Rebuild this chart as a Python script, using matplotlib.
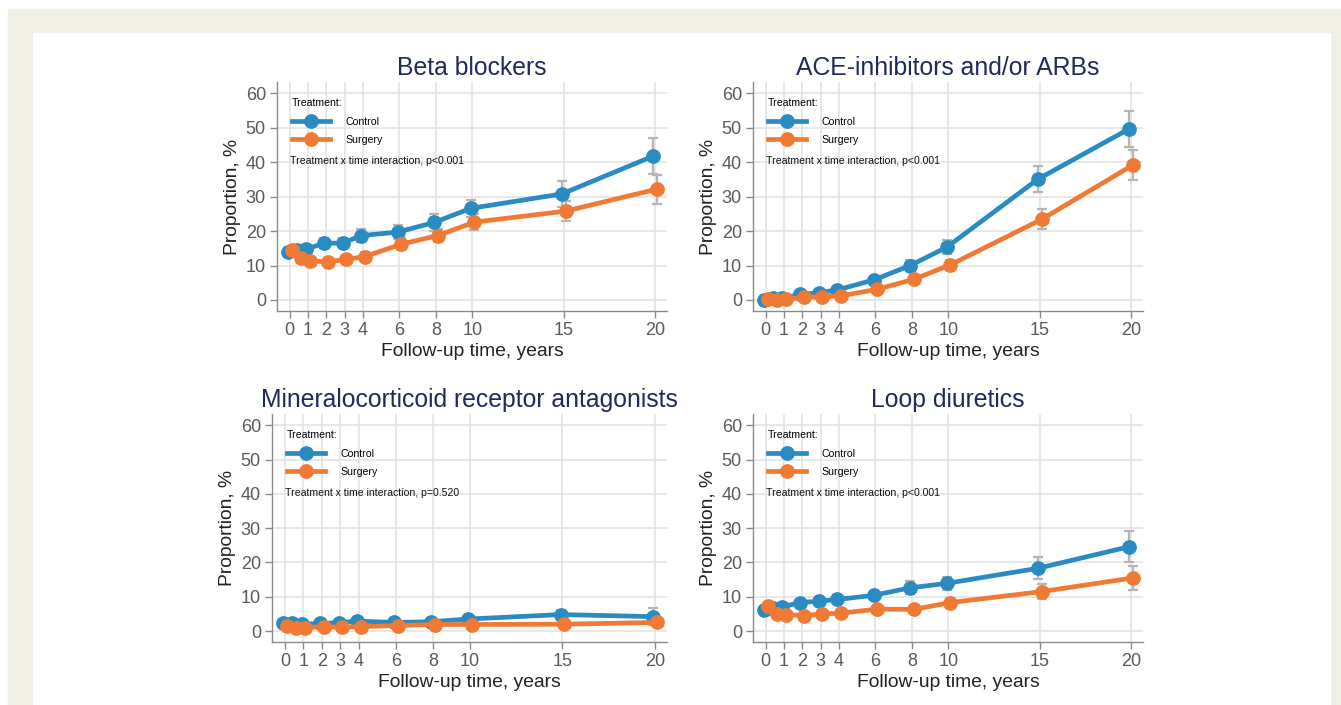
import matplotlib
matplotlib.use("Agg")
import matplotlib.pyplot as plt
from matplotlib.patches import Rectangle
import numpy as np

plt.rcParams['font.family'] = ['Liberation Sans', 'DejaVu Sans']

# follow-up visits (years)
years = np.array([0, 0.5, 1, 2, 3, 4, 6, 8, 10, 15, 20])
xticks = [0, 1, 2, 3, 4, 6, 8, 10, 15, 20]

titles = ["Beta blockers", "ACE-inhibitors and/or ARBs",
          "Mineralocorticoid receptor antagonists", "Loop diuretics"]
p_texts = ["Treatment x time interaction, p<0.001",
           "Treatment x time interaction, p<0.001",
           "Treatment x time interaction, p=0.520",
           "Treatment x time interaction, p<0.001"]

# proportions (%) per drug class
control = [
    [14.0, 14.5, 14.8, 16.5, 16.5, 18.7, 19.7, 22.5, 26.6, 30.8, 41.8],
    [0.1, 0.5, 0.5, 1.6, 2.1, 2.9, 5.8, 10.0, 15.3, 35.1, 49.7],
    [2.2, 2.2, 2.0, 2.2, 2.4, 2.9, 2.5, 2.7, 3.5, 4.8, 4.2],
    [6.1, 6.6, 7.1, 8.3, 8.7, 9.2, 10.4, 12.6, 13.9, 18.3, 24.6],
]
surgery = [
    [14.5, 12.1, 11.3, 11.1, 11.8, 12.6, 16.2, 18.7, 22.6, 25.8, 32.2],
    [0.2, 0.0, 0.2, 0.8, 1.0, 1.2, 3.1, 6.0, 10.2, 23.4, 39.2],
    [1.5, 0.8, 1.0, 1.3, 1.1, 1.3, 1.6, 1.9, 1.9, 2.0, 2.5],
    [7.4, 4.9, 4.8, 4.5, 5.0, 5.2, 6.4, 6.3, 8.3, 11.5, 15.5],
]
# 95% CI half-widths
control_ci = [
    [1.0, 1.0, 1.2, 1.5, 1.5, 1.9, 2.0, 2.5, 2.5, 3.7, 5.2],
    [0.2, 0.3, 0.3, 0.5, 0.6, 0.8, 1.0, 1.5, 2.0, 3.7, 5.2],
    [0.5, 0.5, 0.5, 0.6, 0.6, 0.7, 0.7, 0.8, 1.0, 1.3, 2.4],
    [0.9, 0.9, 1.0, 1.1, 1.2, 1.3, 1.4, 1.9, 2.0, 3.2, 4.6],
]
surgery_ci = [
    [1.0, 1.0, 1.0, 1.1, 1.1, 1.2, 1.7, 2.0, 2.3, 2.9, 4.2],
    [0.2, 0.1, 0.2, 0.3, 0.4, 0.4, 0.7, 1.0, 1.5, 2.9, 4.3],
    [0.4, 0.3, 0.3, 0.4, 0.4, 0.4, 0.5, 0.6, 0.6, 0.8, 1.0],
    [0.9, 0.8, 0.8, 0.8, 0.8, 0.9, 1.0, 1.1, 1.3, 2.3, 3.4],
]

BLUE = "#2a8bc3"
ORANGE = "#f07a34"
ERR = "#b5b5b5"
GRID = "#e4e4e4"
SPINE = "#8a8a8a"
TICK_TXT = "#5a5a5a"
TITLE = "#1e2a5a"

W, H = 1341, 705
fig = plt.figure(figsize=(W / 100, H / 100), dpi=100)
fig.patches.append(Rectangle((8 / W, 0), 1, (H - 9) / H, transform=fig.transFigure,
                             color="#efefe6", zorder=-10))
fig.patches.append(Rectangle((33 / W, 0), (1330 - 33) / W, (H - 33) / H,
                             transform=fig.transFigure, color="white", zorder=-9))

# axes boxes in pixels: left, right, top, bottom
boxes = [(277, 667, 82, 311), (753, 1143, 82, 311),
         (272, 667, 414, 642), (753, 1143, 414, 642)]

for i, (l, r, t, b) in enumerate(boxes):
    ax = fig.add_axes([l / W, 1 - b / H, (r - l) / W, (b - t) / H])
    ax.set_xlim(-0.7, 20.65)
    ax.set_ylim(-3.2, 63.3)

    ax.errorbar(years - 0.1, control[i], yerr=control_ci[i], fmt="none",
                ecolor=ERR, elinewidth=1.6, capsize=3.5, capthick=1.6, zorder=2)
    ax.errorbar(years + 0.1, surgery[i], yerr=surgery_ci[i], fmt="none",
                ecolor=ERR, elinewidth=1.6, capsize=3.5, capthick=1.6, zorder=2)
    h1, = ax.plot(years - 0.1, control[i], color=BLUE, lw=3.4, marker="o",
                  markersize=9.6, zorder=3, label="Control")
    h2, = ax.plot(years + 0.1, surgery[i], color=ORANGE, lw=3.4, marker="o",
                  markersize=9.6, zorder=4, label="Surgery")

    ax.set_xticks(xticks)
    ax.set_yticks(range(0, 61, 10))
    ax.grid(True, color=GRID, lw=1.2)
    ax.set_axisbelow(True)
    for s in ["top", "right"]:
        ax.spines[s].set_visible(False)
    for s in ["left", "bottom"]:
        ax.spines[s].set_color(SPINE)
        ax.spines[s].set_linewidth(1.0)
    ax.tick_params(length=5, width=1.0, color=SPINE, labelcolor=TICK_TXT,
                   labelsize=13, pad=3)

    ax.set_title(titles[i], fontsize=17.8, color=TITLE, pad=5)
    ax.set_xlabel("Follow-up time, years", fontsize=13.9, color="#222222", labelpad=2.5)
    ax.set_ylabel("Proportion, %", fontsize=13.9, color="#222222", labelpad=3)

    leg = ax.legend([h1, h2], ["Control", "Surgery"], loc="upper left",
                    bbox_to_anchor=(15 / (r - l), 1 - 16.5 / (b - t)),
                    frameon=False, title="Treatment:", alignment="left",
                    fontsize=7.6, title_fontsize=7.6, handlelength=3.6,
                    handletextpad=1.5, borderaxespad=0, borderpad=0,
                    labelspacing=0.78)
    ax.text(13 / (r - l), 1 - 79 / (b - t), p_texts[i], transform=ax.transAxes,
            fontsize=7.6, va="center", ha="left", color="#111111")

fig.savefig("out.png", dpi=100)
